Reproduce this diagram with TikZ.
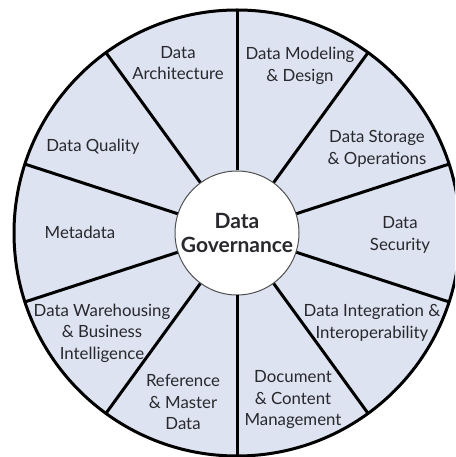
\documentclass[tikz,border=0pt]{standalone}
\usepackage{fontspec}
\setmainfont{Lato}
\usepackage{color}
\definecolor{wheelfill}{RGB}{221,227,240}
\definecolor{labeltext}{RGB}{40,40,45}
\definecolor{hubline}{RGB}{80,80,80}

\begin{document}
\begin{tikzpicture}[%
      x=1pt, y=1pt,
      area/.style={align=center, text=labeltext,
                   font=\fontsize{16.8}{21.5}\selectfont},
      spoke/.style={color=black, line width=3pt},
      ]
      \useasboundingbox (0,0) rectangle (455,457);
      \clip (0,0) rectangle (455,457);
      \filldraw [fill=wheelfill, draw=black, line width=3pt]
            (237,224) circle (223);

      \node [circle, fill=white, draw=hubline, line width=1pt,
             minimum size=124pt, inner sep=0pt, align=center, text=labeltext,
             font=\fontsize{21}{24}\selectfont\bfseries] (hub) at (237,224)
            {Data\\Governance};

      \draw [spoke] (hub.90)  -- ([shift={(90:223)}]hub.center);
      \draw [spoke] (hub.54)  -- ([shift={(54:223)}]hub.center);
      \draw [spoke] (hub.18)  -- ([shift={(18:223)}]hub.center);
      \draw [spoke] (hub.-18) -- ([shift={(-18:223)}]hub.center);
      \draw [spoke] (hub.-54) -- ([shift={(-54:223)}]hub.center);
      \draw [spoke] (hub.-90) -- ([shift={(-90:223)}]hub.center);
      \draw [spoke] (hub.234) -- ([shift={(234:223)}]hub.center);
      \draw [spoke] (hub.198) -- ([shift={(198:223)}]hub.center);
      \draw [spoke] (hub.162) -- ([shift={(162:223)}]hub.center);
      \draw [spoke] (hub.126) -- ([shift={(126:223)}]hub.center);

      \node [area] (arch)    at (178,394) {Data\\Architecture};
      \node [area] (model)   at (300,391) {Data Modeling\\\& Design};
      \node [area] (storage) at (377,308) {Data Storage\\\& Operations};
      \node [area] (secur)   at (400,222) {Data\\Security};
      \node [area] (integr)  at (372,134) {Data Integration \&\\Interoperability};
      \node [area] (docum)   at (293,57)  {Document\\\& Content\\Management};
      \node [area] (refer)   at (183,55)  {Reference\\\& Master\\Data};
      \node [area] (wareh)   at (102,124) {Data Warehousing\\\& Business\\Intelligence};
      \node [area] (meta)    at (80,225)  {Metadata};
      \node [area] (quality) at (93,310)  {Data Quality};
      \end{tikzpicture}
\end{document}
